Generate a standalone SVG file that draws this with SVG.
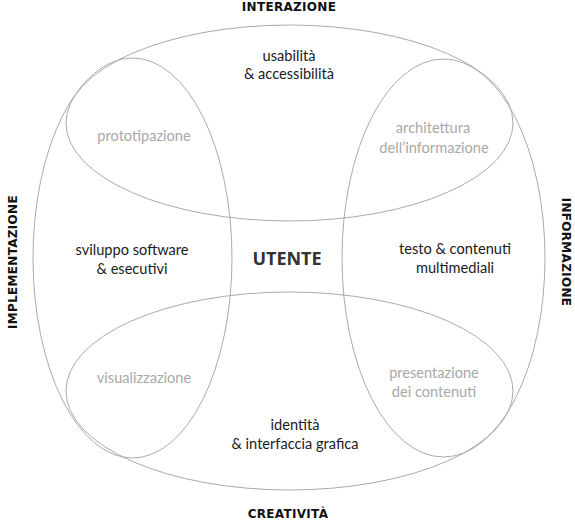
<svg xmlns="http://www.w3.org/2000/svg" width="575" height="524" viewBox="0 0 575 524">
<style>
.shape{fill:none;stroke:#aaaaaa;stroke-width:1}
.t{font-family:Lato,"Open Sans","Liberation Sans",sans-serif;font-size:14.6px;fill:#1a1a1a;text-anchor:middle}
.g{fill:#a8a8a8}
.h{font-family:"DejaVu Sans","Liberation Sans",sans-serif;font-weight:bold;font-size:12px;letter-spacing:0.3px;fill:#111;text-anchor:middle}
.u{font-family:"Open Sans","Liberation Sans",sans-serif;font-weight:bold;font-size:18px;fill:#333;text-anchor:middle}
</style>
<rect width="575" height="524" fill="#ffffff"/>
<g id="connectors"></g>
<g id="top-interazione">
<ellipse class="shape" cx="289.5" cy="123" rx="223.5" ry="98"/>
<text class="t" x="289" y="61">usabilità</text>
<text class="t" x="289" y="79">&amp; accessibilità</text>
</g>
<g id="bottom-creativita">
<ellipse class="shape" cx="289.5" cy="391" rx="223.5" ry="99"/>
<text class="t" x="295" y="430">identità</text>
<text class="t" x="295" y="449">&amp; interfaccia grafica</text>
</g>
<g id="left-implementazione">
<ellipse class="shape" cx="132.5" cy="258" rx="99.5" ry="200"/>
<text class="t" x="132" y="255">sviluppo software</text>
<text class="t" x="132" y="274">&amp; esecutivi</text>
</g>
<g id="right-informazione">
<ellipse class="shape" cx="443.5" cy="258" rx="101.5" ry="199"/>
<text class="t" x="455" y="254">testo &amp; contenuti</text>
<text class="t" x="455" y="273">multimediali</text>
</g>
<g id="overlaps">
<text class="t g" x="144" y="141">prototipazione</text>
<text class="t g" x="433" y="133">architettura</text>
<text class="t g" x="434" y="153">dell’informazione</text>
<text class="t g" x="144" y="383">visualizzazione</text>
<text class="t g" x="434" y="378">presentazione</text>
<text class="t g" x="434" y="397">dei contenuti</text>
</g>
<g id="center">
<text class="u" x="287" y="265">UTENTE</text>
</g>
<g id="axis-labels">
<text class="h" x="289" y="11">INTERAZIONE</text>
<text class="h" x="288" y="518">CREATIVITÀ</text>
<text class="h" transform="translate(17 262) rotate(-90)" x="0" y="0">IMPLEMENTAZIONE</text>
<text class="h" transform="translate(562 252) rotate(90)" x="0" y="0">INFORMAZIONE</text>
</g>
</svg>
